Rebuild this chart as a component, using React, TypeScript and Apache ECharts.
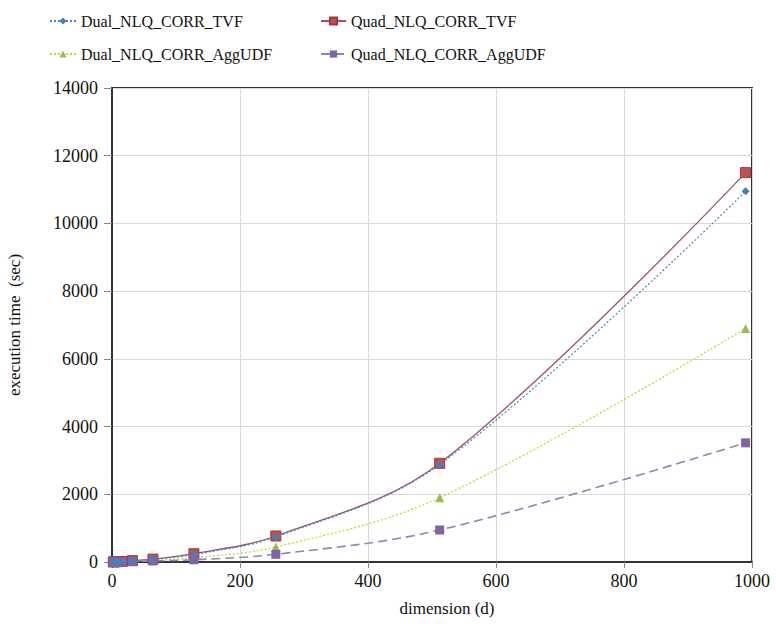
import React, { useEffect, useRef } from "react";
import * as echarts from "echarts";

const dims = [2, 4, 8, 16, 32, 64, 128, 256, 512, 990];
const dualTVF = [2, 3, 6, 12, 30, 75, 220, 740, 2880, 10950];
const quadTVF = [2, 4, 8, 15, 40, 85, 245, 768, 2915, 11500];
const dualAgg = [1, 2, 4, 8, 20, 45, 120, 443, 1900, 6900];
const quadAgg = [1, 2, 3, 6, 12, 30, 65, 227, 945, 3520];

const names = ["Dual_NLQ_CORR_TVF", "Quad_NLQ_CORR_TVF", "Dual_NLQ_CORR_AggUDF", "Quad_NLQ_CORR_AggUDF"];

const FONT = "'Liberation Serif', 'Times New Roman', serif";

function pairs(vals: number[]) {
  return dims.map((d, i) => [d, vals[i]]);
}

export default function App() {
  const ref = useRef<HTMLDivElement>(null);
  useEffect(() => {
    if (!ref.current) return;
    const chart = echarts.init(ref.current, undefined, { renderer: "svg" });
    const legendText = { fontFamily: FONT, fontSize: 16, color: "#111" };
    chart.setOption({
      animation: false,
      backgroundColor: "#fff",
      legend: [
        {
          orient: "vertical",
          left: 44,
          top: 8,
          itemGap: 17,
          itemWidth: 26,
          itemHeight: 9,
          data: [names[0], names[2]],
          textStyle: legendText,
        },
        {
          orient: "vertical",
          left: 315,
          top: 8,
          itemGap: 17,
          itemWidth: 25,
          itemHeight: 9,
          data: [names[1], names[3]],
          textStyle: legendText,
        },
      ],
      grid: {
        left: 112,
        right: 24,
        top: 88,
        bottom: 76,
        containLabel: false,
        outerBoundsMode: "none",
        show: true,
        borderColor: "#333",
        borderWidth: 2,
        backgroundColor: "transparent",
      },
      xAxis: {
        type: "value",
        min: 0,
        max: 1000,
        interval: 200,
        name: "dimension (d)",
        nameLocation: "middle",
        nameGap: 38,
        nameTextStyle: { fontFamily: FONT, fontSize: 17, color: "#111", padding: [0, 0, 0, 30] },
        axisLine: { show: true, lineStyle: { color: "#333", width: 2 } },
        axisTick: { show: true, length: 6, lineStyle: { color: "#888" } },
        axisLabel: { fontFamily: FONT, fontSize: 18, color: "#111", margin: 10, formatter: (v: number) => String(v) },
        splitLine: { show: true, lineStyle: { color: "#d9d9d9", width: 1 } },
      },
      yAxis: {
        type: "value",
        min: 0,
        max: 14000,
        interval: 2000,
        name: "execution time  (sec)",
        nameLocation: "middle",
        nameGap: 89,
        nameTextStyle: { fontFamily: FONT, fontSize: 17, color: "#111" },
        axisLine: { show: true, lineStyle: { color: "#333", width: 2 } },
        axisTick: { show: true, length: 8, lineStyle: { color: "#888" } },
        axisLabel: { fontFamily: FONT, fontSize: 18, color: "#111", margin: 14, formatter: (v: number) => String(v) },
        splitLine: { show: true, lineStyle: { color: "#d9d9d9", width: 1 } },
      },
      series: [
        {
          name: names[0],
          type: "line",
          data: pairs(dualTVF),
          smooth: 0.35,
          symbol: "diamond",
          symbolSize: 8,
          z: 4,
          itemStyle: { color: "#4A7EBB" },
          lineStyle: { color: "#4F81BD", width: 1.2, type: [2, 2] },
        },
        {
          name: names[1],
          type: "line",
          data: pairs(quadTVF),
          smooth: 0.35,
          symbol: "rect",
          symbolSize: 10,
          z: 3,
          itemStyle: { color: "#C0504D", borderColor: "#9E3B3A", borderWidth: 1 },
          lineStyle: { color: "#A24E74", width: 1.3, type: "solid" },
        },
        {
          name: names[2],
          type: "line",
          data: pairs(dualAgg),
          smooth: 0.35,
          symbol: "triangle",
          symbolSize: 9,
          z: 3,
          itemStyle: { color: "#9BBB59" },
          lineStyle: { color: "#C5D62A", width: 1.3, type: [2, 2] },
        },
        {
          name: names[3],
          type: "line",
          data: pairs(quadAgg),
          smooth: 0.35,
          symbol: "rect",
          symbolSize: 9,
          z: 3,
          itemStyle: { color: "#8064A2" },
          lineStyle: { color: "#8A86AE", width: 1.6, type: [9, 5] },
        },
      ],
    });
    return () => chart.dispose();
  }, []);
  return <div ref={ref} style={{ position: "fixed", left: 0, top: 0, width: 776, height: 638 }} />;
}
